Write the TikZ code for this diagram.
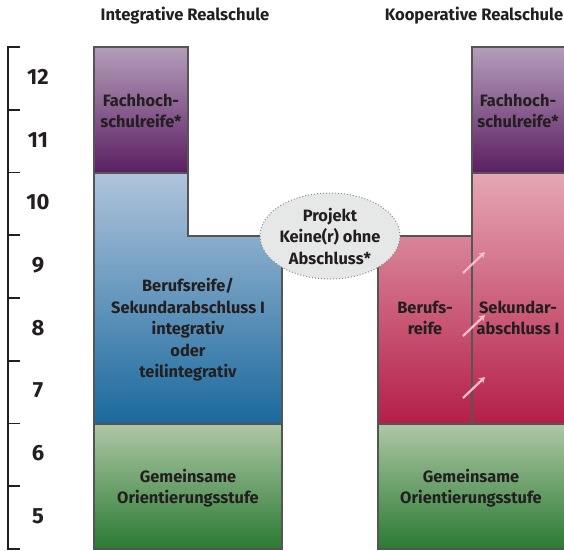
\documentclass[tikz,border=0pt]{standalone}
\usepackage{fontspec}
\setmainfont{Fira Sans}
\usetikzlibrary{shapes.geometric,arrows.meta}
\definecolor{txt}{HTML}{231F20}
\definecolor{boxline}{HTML}{555555}
\definecolor{purpT}{HTML}{B59DBA}
\definecolor{purpB}{HTML}{5A1E62}
\definecolor{blueT}{HTML}{B0C4DC}
\definecolor{blueB}{HTML}{1A699D}
\definecolor{greenT}{HTML}{AEC7A5}
\definecolor{greenB}{HTML}{2A7A32}
\definecolor{pinkT}{HTML}{E6A7B4}
\definecolor{pinkB}{HTML}{B41E47}
\definecolor{arrowpink}{HTML}{F2BFCB}
\definecolor{ellfill}{HTML}{E6E7E7}
\definecolor{elldraw}{HTML}{8A8A8A}
\begin{document}
\begin{tikzpicture}[x=1pt,y=-1pt,
  lbl/.style={font=\bfseries\fontsize{16.4}{21.5}\selectfont, text=txt, align=center, inner sep=0pt},
  num/.style={font=\bfseries\fontsize{22}{22}\selectfont, text=txt, inner sep=0pt},
  hdr/.style={font=\bfseries\fontsize{16.6}{18}\selectfont, text=txt, inner sep=0pt},
  edge/.style={draw=boxline, line width=1.1pt},
  scaleline/.style={draw=txt, line width=1.8pt},
  up/.style={draw=arrowpink, line width=2.2pt, -{Stealth[length=6pt,width=7pt]}}
]
\useasboundingbox (0,0) rectangle (564,550);

% headers
\node[hdr] (h1) at (185,16) {Integrative Realschule};
\node[hdr] (h2) at (474,16) {Kooperative Realschule};

% scale
\draw[scaleline] (20,47) -- (8,47) -- (8,549) -- (20,549);
\foreach \k in {1,...,7}{
  \draw[scaleline] (8,{47+62.75*\k}) -- (20,{47+62.75*\k});
}
\foreach \g/\y in {12/77,11/140,10/202,9/265,8/328,7/390,6/453,5/516}{
  \node[num] (n\g) at (38,\y) {\g};
}

% left column
\shade[top color=purpT, bottom color=purpB] (94,47) rectangle (188,173);
\draw[edge] (94,47) rectangle (188,173);
\shade[top color=blueT, bottom color=blueB] (94,173) -- (188,173) -- (188,236) -- (282,236) -- (282,424) -- (94,424) -- cycle;
\draw[edge] (94,173) -- (188,173) -- (188,236) -- (282,236) -- (282,424) -- (94,424) -- cycle;
\shade[top color=greenT, bottom color=greenB] (94,424) rectangle (282,549);
\draw[edge] (94,424) rectangle (282,549);

% right column
\shade[top color=purpT, bottom color=purpB] (472,47) rectangle (566,173);
\draw[edge] (472,47) rectangle (566,173);
\shade[top color=pinkT, bottom color=pinkB] (378,236) -- (472,236) -- (472,173) -- (566,173) -- (566,424) -- (378,424) -- cycle;
\draw[edge] (378,236) -- (472,236) -- (472,173) -- (566,173) -- (566,424) -- (378,424) -- cycle;
\draw[edge] (472,236) -- (472,424);
\shade[top color=greenT, bottom color=greenB] (378,424) rectangle (566,549);
\draw[edge] (378,424) rectangle (566,549);

% labels
\node[lbl] (fhl) at (141,111) {Fachhoch-\\schulreife*};
\node[lbl] (fhr) at (518,111) {Fachhoch-\\schulreife*};
\node[lbl] (bsi) at (188,330) {Berufsreife/\\Sekundarabschluss I\\integrativ\\oder\\teilintegrativ};
\node[lbl] (gol) at (188,488) {Gemeinsame\\Orientierungsstufe};
\node[lbl] (gor) at (471,488) {Gemeinsame\\Orientierungsstufe};
\node[lbl] (br) at (425,318) {Berufs-\\reife};
\node[lbl] (sk) at (518,318) {Sekundar-\\abschluss I};

% arrows
\coordinate (a1s) at (463,273); \coordinate (a1e) at (485,252);
\coordinate (a2s) at (463,336); \coordinate (a2e) at (485,315);
\coordinate (a3s) at (463,398); \coordinate (a3e) at (485,377);
\draw[up] (a1s) -- (a1e);
\draw[up] (a2s) -- (a2e);
\draw[up] (a3s) -- (a3e);

% project ellipse
\node[ellipse, draw=elldraw, dotted, line width=1pt, fill=ellfill, minimum width=140pt, minimum height=86pt, inner sep=0pt] (proj) at (330,236) {};
\node[lbl] (projt) at (330,236) {Projekt\\Keine(r) ohne\\Abschluss*};
\end{tikzpicture}
\end{document}
